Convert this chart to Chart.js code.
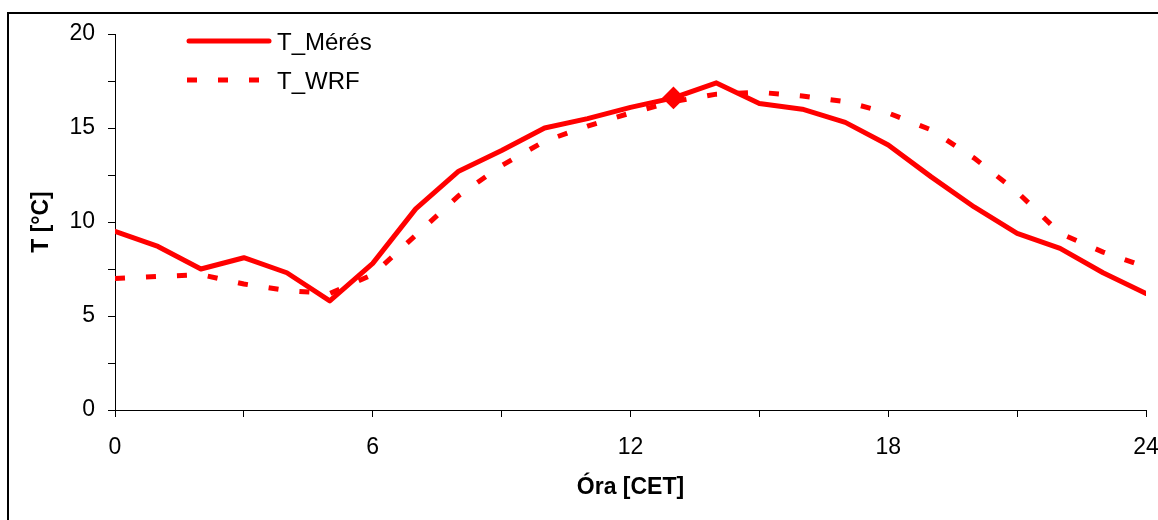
<!DOCTYPE html>
<html lang="hu">
<head>
<meta charset="utf-8">
<title>T_Mérés / T_WRF</title>
<script src="https://cdn.jsdelivr.net/npm/chart.js@4/dist/chart.umd.min.js"></script>
<style>
    html, body { margin: 0; padding: 0; background: #fff; overflow: hidden; }
    #marco { position: absolute; left: 7px; top: 12px; width: 1300px; height: 700px; border: 2px solid #000; }
    #grafica { position: absolute; left: 0; top: 0; }
</style>
</head>
<body>
<div id="marco"></div>
<canvas id="grafica" width="1158" height="520"></canvas>
<script>
// Datos (hora CET, temperatura en °C)
const horas = [0, 1, 2, 3, 4, 5, 6, 7, 8, 9, 10, 11, 12, 13, 14, 15, 16, 17, 18, 19, 20, 21, 22, 23, 24];
const tMeres = [9.5, 8.7, 7.5, 8.1, 7.3, 5.8, 7.8, 10.7, 12.7, 13.8, 15.0, 15.5, 16.1, 16.6, 17.4, 16.3, 16.0, 15.3, 14.1, 12.4, 10.8, 9.4, 8.6, 7.3, 6.2];
const tWrf = [7.0, 7.1, 7.2, 6.7, 6.35, 6.2, 7.2, 9.3, 11.4, 13.0, 14.3, 15.1, 15.8, 16.4, 16.8, 16.9, 16.7, 16.4, 15.8, 14.9, 13.4, 11.6, 9.4, 8.4, 7.6];
const etiquetasX = [0, 6, 12, 18, 24];
const etiquetasY = [0, 5, 10, 15, 20];
const horaMarcada = 13;

const fuente = '"Liberation Sans", Arial, sans-serif';

// Leyenda dentro del área de la gráfica, como en el original
const leyendaPlugin = {
    id: 'leyenda',
    afterDraw(chart) {
        const ctx = chart.ctx;
        const area = chart.chartArea;
        chart.data.datasets.forEach((ds, i) => {
            const y = area.top + 7 + i * 39;
            const x0 = area.left + 72;
            ctx.save();
            ctx.strokeStyle = ds.borderColor;
            ctx.lineWidth = ds.borderWidth;
            ctx.lineCap = ds.borderCapStyle;
            ctx.setLineDash(ds.borderDash || []);
            ctx.beginPath();
            if (ds.borderDash) {
                ctx.moveTo(x0, y);
                ctx.lineTo(x0 + 75, y);
            } else {
                ctx.moveTo(x0 + 2, y);
                ctx.lineTo(x0 + 82, y);
            }
            ctx.stroke();
            ctx.setLineDash([]);
            ctx.fillStyle = '#000';
            ctx.font = '24px ' + fuente;
            ctx.textBaseline = 'middle';
            ctx.fillText(ds.label, x0 + 90, y + 2);
            ctx.restore();
        });
    }
};

document.addEventListener("DOMContentLoaded", function() {
    const ctx = document.getElementById('grafica').getContext('2d');
    new Chart(ctx, {
        type: 'line',
        data: {
            datasets: [{
                label: 'T_Mérés',
                data: horas.map((h, i) => ({ x: h, y: tMeres[i] })),
                borderColor: '#ff0000',
                backgroundColor: '#ff0000',
                borderWidth: 5,
                borderCapStyle: 'round',
                borderJoinStyle: 'round',
                pointStyle: 'rectRot',
                pointRadius: horas.map(h => h === horaMarcada ? 10 : 0),
                pointBorderWidth: 2,
                fill: false,
                tension: 0
            }, {
                label: 'T_WRF',
                data: horas.map((h, i) => ({ x: h, y: tWrf[i] })),
                borderColor: '#ff0000',
                backgroundColor: '#ff0000',
                borderWidth: 5,
                borderDash: [10, 21],
                borderCapStyle: 'butt',
                pointRadius: 0,
                fill: false,
                tension: 0
            }]
        },
        options: {
            responsive: false,
            animation: false,
            events: [],
            layout: {
                padding: { top: 34, right: 12, left: 0, bottom: 0 }
            },
            plugins: {
                legend: { display: false },
                tooltip: { enabled: false }
            },
            scales: {
                x: {
                    type: 'linear',
                    min: 0,
                    max: 24,
                    afterFit: s => { s.height = 110; s.paddingLeft = 0; s.paddingRight = 0; },
                    afterBuildTicks: s => { s.ticks = horas.filter(h => h % 3 === 0).map(v => ({ value: v })); },
                    ticks: {
                        color: '#000',
                        padding: 17,
                        maxRotation: 0,
                        font: { family: fuente, size: 23 },
                        callback: v => etiquetasX.includes(v) ? String(v) : ''
                    },
                    grid: {
                        drawOnChartArea: false,
                        drawTicks: true,
                        tickLength: 7,
                        tickColor: '#000'
                    },
                    border: { display: true, color: '#000', width: 1 },
                    title: {
                        display: true,
                        text: 'Óra [CET]',
                        color: '#000',
                        font: { family: fuente, size: 23, weight: 'bold' },
                        padding: { top: 0, bottom: 19 }
                    }
                },
                y: {
                    min: 0,
                    max: 20,
                    afterFit: s => { s.width = 115; s.paddingTop = 0; s.paddingBottom = 0; },
                    ticks: {
                        stepSize: 2.5,
                        color: '#000',
                        padding: 13,
                        font: { family: fuente, size: 23 },
                        callback: v => etiquetasY.includes(v) ? String(v) : ''
                    },
                    grid: {
                        drawOnChartArea: false,
                        drawTicks: true,
                        tickLength: 7,
                        tickColor: '#000'
                    },
                    border: { display: true, color: '#000', width: 1 },
                    title: {
                        display: true,
                        text: 'T [°C]',
                        color: '#000',
                        font: { family: fuente, size: 23, weight: 'bold' },
                        padding: { top: 28, bottom: 0 }
                    }
                }
            }
        },
        plugins: [leyendaPlugin]
    });
});
</script>
</body>
</html>
